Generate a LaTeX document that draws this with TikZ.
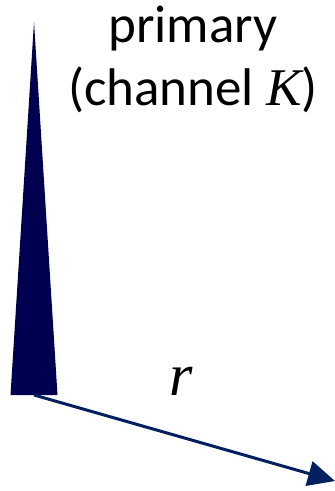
\documentclass[tikz,border=0pt]{standalone}
\usepackage{fontspec}
\setmainfont{Carlito}
\newfontfamily\serifit{Liberation Serif}
\usetikzlibrary{arrows.meta}
\definecolor{spikecol}{RGB}{0,0,80}
\definecolor{arrowcol}{RGB}{0,32,96}
\tikzset{lbl/.style={inner sep=0pt, anchor=base west, font=\fontsize{53}{60}\selectfont}}
\begin{document}
\begin{tikzpicture}[x=1pt,y=-1pt]
\useasboundingbox (0,0) rectangle (335,491);
\fill[spikecol] (10.5,395) -- (34,22) -- (57.5,395) -- cycle;
\coordinate (o) at (34,395);
\coordinate (e) at (335,481);
\draw[arrowcol, line width=3pt, -{Triangle[length=27pt,width=25pt]}] (o) -- (e);
\node[lbl] (p) at (108,42) {primary};
\node[lbl] (c) at (68,105) {(channel {\serifit\itshape K})};
\node[lbl, anchor=base] (r) at (181,395) {\fontsize{60}{60}\selectfont\serifit\itshape r};
\end{tikzpicture}
\end{document}
